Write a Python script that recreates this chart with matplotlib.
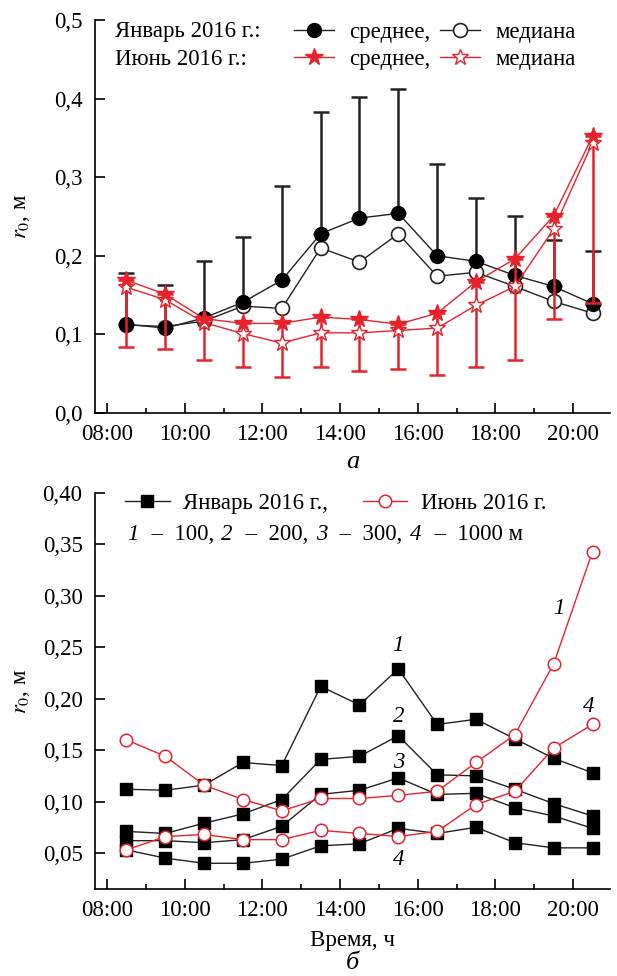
import numpy as np
import matplotlib
matplotlib.use('Agg')
import matplotlib.pyplot as plt
from matplotlib.ticker import FixedLocator, FuncFormatter
from matplotlib.offsetbox import TextArea, HPacker, AnchoredOffsetbox

plt.rcParams['font.family'] = ['Liberation Serif', 'DejaVu Serif']
plt.rcParams['mathtext.fontset'] = 'stix'
plt.rcParams['font.size'] = 16.5

RED = '#e8222a'
DARK = '#222222'

hours = [8.5, 9.5, 10.5, 11.5, 12.5, 13.5, 14.5, 15.5, 16.5, 17.5, 18.5, 19.5, 20.5]

# panel a
jan_mean = [0.113, 0.108, 0.121, 0.141, 0.169, 0.228, 0.248, 0.254, 0.200, 0.193, 0.175, 0.161, 0.139]
jan_median = [0.112, 0.110, 0.117, 0.136, 0.133, 0.210, 0.192, 0.228, 0.174, 0.179, 0.161, 0.142, 0.127]
jan_upper = [0.178, 0.163, 0.193, 0.224, 0.289, 0.383, 0.402, 0.412, 0.317, 0.274, 0.251, 0.220, 0.206]
jun_mean = [0.169, 0.151, 0.120, 0.114, 0.114, 0.122, 0.119, 0.113, 0.127, 0.167, 0.196, 0.251, 0.352]
jun_median = [0.160, 0.144, 0.115, 0.101, 0.089, 0.102, 0.102, 0.105, 0.108, 0.137, 0.161, 0.234, 0.344]
jun_lower = [0.084, 0.082, 0.067, 0.058, 0.046, 0.058, 0.053, 0.056, 0.048, 0.058, 0.067, 0.120, 0.140]

# panel b: 1 - 100, 2 - 200, 3 - 300, 4 - 1000 m
jan_1 = [0.112, 0.111, 0.116, 0.138, 0.135, 0.212, 0.194, 0.229, 0.175, 0.180, 0.161, 0.142, 0.128]
jan_2 = [0.071, 0.069, 0.079, 0.088, 0.102, 0.141, 0.144, 0.164, 0.126, 0.125, 0.112, 0.098, 0.086]
jan_3 = [0.062, 0.062, 0.060, 0.063, 0.076, 0.107, 0.111, 0.123, 0.107, 0.108, 0.094, 0.086, 0.074]
jan_4 = [0.053, 0.045, 0.040, 0.040, 0.044, 0.057, 0.059, 0.074, 0.069, 0.075, 0.060, 0.055, 0.055]
jun_1 = [0.160, 0.144, 0.116, 0.102, 0.091, 0.103, 0.103, 0.106, 0.110, 0.138, 0.165, 0.234, 0.343]
jun_4 = [0.053, 0.066, 0.068, 0.063, 0.063, 0.072, 0.069, 0.066, 0.071, 0.097, 0.110, 0.152, 0.175]

W, H = 617, 976
fig = plt.figure(figsize=(W / 100, H / 100), dpi=100)


def frame(top, bottom):
    return [95 / W, 1 - bottom / H, (610 - 95) / W, (bottom - top) / H]


def style_axes(ax):
    for s in ['top', 'right']:
        ax.spines[s].set_visible(False)
    for s in ['left', 'bottom']:
        ax.spines[s].set_linewidth(1.2)
    ax.set_xlim(7.69, 20.95)
    ax.xaxis.set_major_locator(FixedLocator([8, 10, 12, 14, 16, 18, 20]))
    ax.xaxis.set_minor_locator(FixedLocator([9, 11, 13, 15, 17, 19]))
    ax.xaxis.set_major_formatter(FuncFormatter(lambda v, p: '%02d:00' % v))
    ax.tick_params(which='major', direction='in', length=7.5, width=1.2)
    ax.tick_params(which='minor', direction='in', length=3.5, width=1.2)
    ax.tick_params(axis='x', pad=8)
    ax.tick_params(axis='y', pad=9)
    ax.set_ylabel('$r_0$, м')
    ax.yaxis.label.set_verticalalignment('center')
    ax.yaxis.set_label_coords(-0.142, 0.5)


def comma(fmt):
    return FuncFormatter(lambda v, p: (fmt % v).replace('.', ','))


# ---- top panel
ax1 = fig.add_axes(frame(20, 413))
style_axes(ax1)
ax1.set_ylim(0, 0.5)
ax1.set_yticks(np.arange(0, 0.51, 0.1))
ax1.yaxis.set_major_formatter(comma('%.1f'))

jm = np.array(jan_mean)
ax1.errorbar(hours, jm, yerr=[np.zeros_like(jm), np.array(jan_upper) - jm],
             fmt='none', ecolor=DARK, elinewidth=1.8, capsize=6, capthick=1.8, zorder=2)
ax1.plot(hours, jan_median, '-', color=DARK, lw=1, marker='o', ms=10,
         mfc='white', mec=DARK, mew=1.2, zorder=3, label='медиана')
ax1.plot(hours, jan_mean, '-', color=DARK, lw=1, marker='o', ms=10,
         mfc='black', mec='black', zorder=4, label='среднее,')

um = np.array(jun_mean)
ax1.errorbar(hours, um, yerr=[um - np.array(jun_lower), np.zeros_like(um)],
             fmt='none', ecolor=RED, elinewidth=1.8, capsize=6, capthick=1.8, zorder=5)
ax1.plot(hours, jun_median, '-', color=RED, lw=1, marker='*', ms=12,
         mfc='white', mec=RED, mew=1, zorder=6, label='медиана')
ax1.plot(hours, jun_mean, '-', color=RED, lw=1, marker='*', ms=13,
         mfc=RED, mec=RED, zorder=7, label='среднее,')

h, l = ax1.get_legend_handles_labels()
order = [1, 3, 0, 2]
ax1.legend([h[i] for i in order], [l[i] for i in order], ncol=2,
           loc='upper left', bbox_to_anchor=(0.386, 0.995), frameon=False,
           handlelength=1.75, handletextpad=0.65, columnspacing=0.45,
           labelspacing=0.25, borderaxespad=0, borderpad=0)
ax1.text(0.039, 0.970, 'Январь 2016 г.:', transform=ax1.transAxes, va='center', ha='left')
ax1.text(0.039, 0.899, 'Июнь 2016 г.:', transform=ax1.transAxes, va='center', ha='left')

ax1.text(0.5, -0.125, 'а', transform=ax1.transAxes, ha='center', va='center',
         style='italic', fontsize=19)

# ---- bottom panel
ax2 = fig.add_axes(frame(493, 889))
style_axes(ax2)
ax2.set_ylim(0.015, 0.40)
ax2.set_yticks(np.arange(0.05, 0.401, 0.05))
ax2.yaxis.set_major_formatter(comma('%.2f'))

for i, ser in enumerate([jan_1, jan_2, jan_3, jan_4]):
    ax2.plot(hours, ser, '-', color=DARK, lw=1, marker='s', ms=9,
             mfc='black', mec='black', zorder=3,
             label='Январь 2016 г.,' if i == 0 else None)
for i, ser in enumerate([jun_1, jun_4]):
    ax2.plot(hours, ser, '-', color=RED, lw=1, marker='o', ms=9,
             mfc='white', mec=RED, mew=1.1, zorder=4,
             label='Июнь 2016 г.' if i == 0 else None)

ax2.legend(ncol=2, loc='upper left', bbox_to_anchor=(0.058, 1.0), frameon=False,
           handlelength=1.95, handletextpad=0.6, columnspacing=1.5,
           borderaxespad=0, borderpad=0)

# second legend line: italic curve numbers with heights
parts = [('1', True), ('  –  100, ', False), ('2', True), ('  –  200, ', False),
         ('3', True), ('  –  300, ', False), ('4', True), ('  –  1000 м', False)]
areas = [TextArea(s, textprops=dict(fontstyle='italic' if it else 'normal', fontsize=16.5))
         for s, it in parts]
row = AnchoredOffsetbox(loc='center left', child=HPacker(children=areas, pad=0, sep=1),
                        bbox_to_anchor=(0.062, 0.895), bbox_transform=ax2.transAxes,
                        frameon=False, pad=0, borderpad=0)
ax2.add_artist(row)

# curve numbers
kw = dict(textcoords='offset points', ha='center', va='center', style='italic')
ax2.annotate('1', (15.5, jan_1[7]), xytext=(0, 16.5), **kw)
ax2.annotate('2', (15.5, jan_2[7]), xytext=(0, 13.7), **kw)
ax2.annotate('3', (15.5, jan_3[7]), xytext=(0, 10.8), **kw)
ax2.annotate('4', (15.5, jan_4[7]), xytext=(0, -22.6), **kw)
ax2.annotate('1', (19.5, jun_1[11]), xytext=(3.6, 40), **kw)
ax2.annotate('4', (20.5, jun_4[12]), xytext=(-3, 13), **kw)

ax2.set_xlabel('Время, ч')
ax2.xaxis.set_label_coords(0.5, -0.129)
ax2.xaxis.label.set_verticalalignment('center')
ax2.text(0.5, -0.187, 'б', transform=ax2.transAxes, ha='center', va='center',
         style='italic', fontsize=19)

fig.savefig('out.png', dpi=100)
